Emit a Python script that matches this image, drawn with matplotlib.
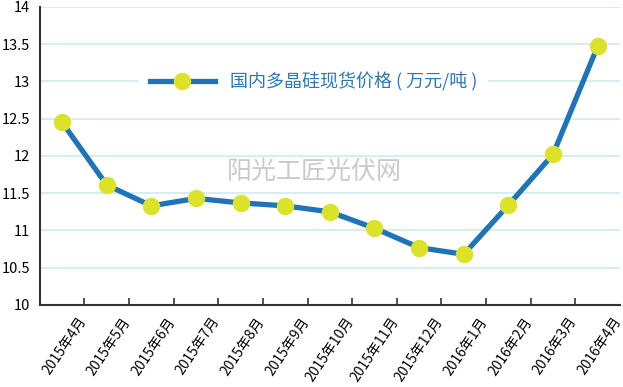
import matplotlib.pyplot as plt
from matplotlib.transforms import ScaledTranslation

plt.rcParams['font.family'] = ['Noto Sans CJK SC', 'DejaVu Sans']

months = ['2015年4月', '2015年5月', '2015年6月', '2015年7月', '2015年8月', '2015年9月',
          '2015年10月', '2015年11月', '2015年12月', '2016年1月', '2016年2月',
          '2016年3月', '2016年4月']
price = [12.45, 11.61, 11.33, 11.43, 11.37, 11.33, 11.25, 11.03, 10.77, 10.68,
         11.34, 12.02, 13.47]
series_name = '国内多晶硅现货价格 ( 万元/吨 )'

fig = plt.figure(figsize=(6.23, 3.87), dpi=100)
ax = fig.add_axes([0.064, 0.212, 0.931, 0.77])

x = list(range(len(months)))
ax.plot(x, price, color='#1f74b9', lw=3.8, marker='o', ms=11.5,
        mfc='#dce22a', mec='#dce22a', label=series_name, zorder=3)

ax.set_xlim(-0.5, len(months) - 0.5)
ax.set_ylim(10, 14)
ax.set_yticks([10 + 0.5 * i for i in range(9)])
ax.set_yticklabels(['10', '10.5', '11', '11.5', '12', '12.5', '13', '13.5', '14'])
ax.yaxis.grid(True, color='#cfe9f2', lw=1.2)
ax.set_axisbelow(True)

ax.set_xticks(x)
ax.set_xticklabels(months, rotation=56, ha='right', rotation_mode='anchor', fontsize=10)
ax.set_xticks([i + 0.5 for i in x[:-1]], minor=True)
ax.tick_params(axis='x', which='major', length=0, pad=7)
ax.tick_params(axis='x', which='minor', direction='in', length=5, width=1.2, color='#333333')
ax.tick_params(axis='y', length=0, labelsize=10.5, pad=7)
off = ScaledTranslation(15 / 100, 0, fig.dpi_scale_trans)
for lab in ax.get_xticklabels():
    lab.set_transform(lab.get_transform() + off)

for s in ['top', 'right']:
    ax.spines[s].set_visible(False)
for s in ['left', 'bottom']:
    ax.spines[s].set_linewidth(1.5)
    ax.spines[s].set_color('#333333')

leg = ax.legend(loc='center left', bbox_to_anchor=(0.155, 0.75), frameon=True,
                facecolor='white', edgecolor='none', framealpha=1,
                handlelength=3.6, handletextpad=0.85, borderpad=0.6, fontsize=13)
for t in leg.get_texts():
    t.set_color('#2a78b8')

ax.text(0.474, 0.446, '阳光工匠光伏网', transform=ax.transAxes, ha='center', va='center',
        fontsize=18, color='#cacaca')

fig.savefig('out.png', dpi=100)
